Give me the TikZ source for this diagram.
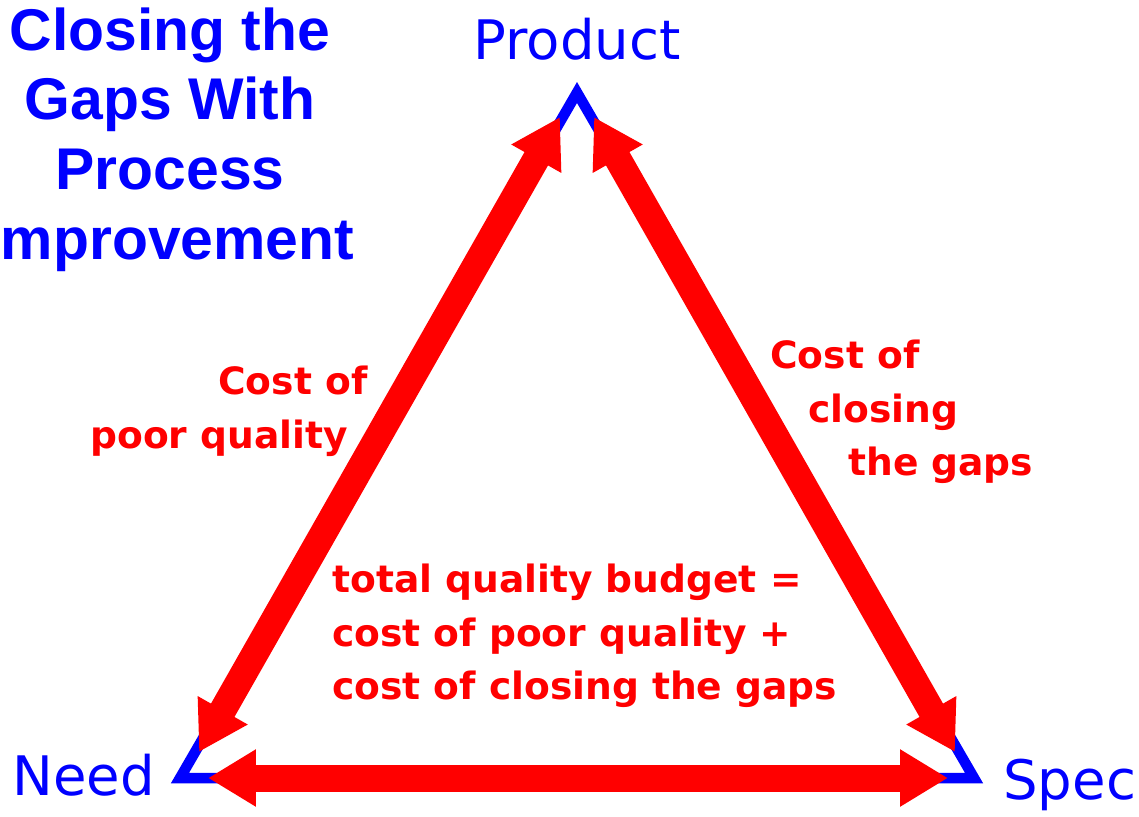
\documentclass[tikz,border=0pt]{standalone}
\usepackage{fontspec}
\usepackage{tikz}
\usetikzlibrary{arrows.meta}
\usetikzlibrary{positioning}
\newfontfamily\headfont{Liberation Sans}
\newfontfamily\labelfont{DejaVu Sans}
\definecolor{pblue}{RGB}{0,0,255}
\definecolor{pred}{RGB}{255,0,0}

\begin{document}
\begin{tikzpicture}[x=0.02cm, y=-0.02cm,
        side/.style={draw=pblue, line width=0.21cm, miter limit=10},
        gap/.style={draw=pred, line width=0.54cm, {Triangle[length=0.96cm,width=1.08cm]}-{Triangle[length=0.96cm,width=1.08cm]}},
        title/.style={text=pblue, font=\headfont\bfseries\fontsize{33.5}{39.7}\selectfont, align=center, inner sep=0pt},
        corner/.style={text=pblue, font=\labelfont\fontsize{31}{36}\selectfont, inner sep=0pt},
        cost/.style={text=pred, font=\labelfont\bfseries\fontsize{21.4}{30.3}\selectfont, align=left, inner sep=0pt}
      ]
        \useasboundingbox (0,0) rectangle (1139,816);

        \coordinate (top)   at (577,92.5);
        \coordinate (left)  at (180,778);
        \coordinate (right) at (974,778);
        \draw[side] (top) -- (left) -- (right) -- cycle;

        \coordinate (poortop)  at (560,117);
        \coordinate (poorend)  at (199,752);
        \coordinate (closetop) at (594,117);
        \coordinate (closeend) at (955,752);
        \coordinate (needend)  at (208,778);
        \coordinate (specend)  at (948,778);

        \draw[gap] (poortop) -- (poorend);
        \draw[gap] (closetop) -- (closeend);
        \draw[gap] (needend) -- (specend);

        \node[title, anchor=north]  (heading) at (170,7)   {Closing the\\Gaps With\\Process\\\hspace*{0.3cm}mprovement};
        \node[corner, anchor=north] (product) at (577,18)  {Product};
        \node[corner, anchor=north west] (need) at (12,754) {Need};
        \node[corner, anchor=north west] (spec) at (1003,759) {Spec};

        \node[cost, anchor=north west] (poor)   at (90,366)  {\hspace*{2.56cm}Cost of\\poor quality};
        \node[cost, anchor=north west] (close)  at (770,340) {Cost of\\\hspace*{0.76cm}closing\\\hspace*{1.56cm}the gaps};
        \node[cost, anchor=north west] (budget) at (332,564) {total quality budget =\\cost of poor quality +\\cost of closing the gaps};
      \end{tikzpicture}
\end{document}
